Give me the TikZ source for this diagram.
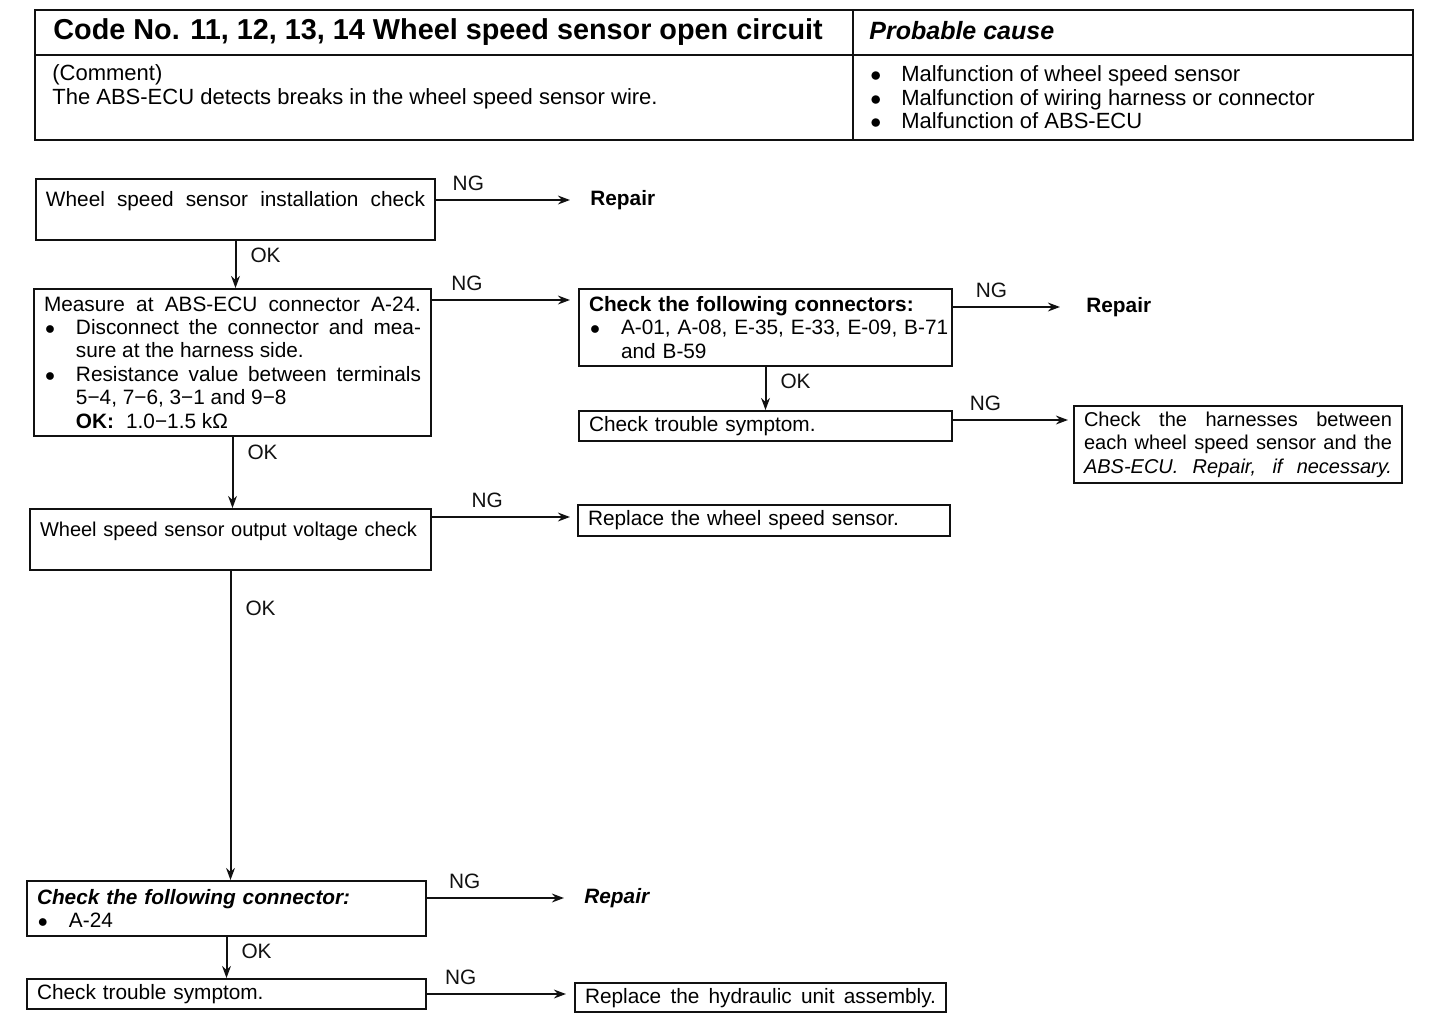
\documentclass[tikz,border=0pt]{standalone}
\usepackage{fontspec}
\setmainfont{Liberation Sans}
\usetikzlibrary{
  arrows.meta,
  positioning,
  calc
}
\definecolor{fcInk}{HTML}{111111}
\newcommand{\fcbullet}{\makebox[16pt][l]{\hspace{0.5pt}$\bullet$}}
\newcommand{\fcindent}{\hspace*{16pt}}
\tikzset{
  fcnode/.style={
    draw=fcInk, line width=1pt, inner xsep=5pt, inner ysep=2.5pt,
    anchor=north west, align=left, font=\fontsize{10.4}{11.7}\selectfont
  },
  fctall/.style={fcnode, text height=11pt, text depth=14.5pt},
  fcslim/.style={fcnode, minimum height=15pt},
  fcjust/.style={fcnode, align=justify},
  ngline/.style={-{Stealth[length=6pt, width=4.4pt]}, line width=1pt, fcInk},
  okline/.style={ngline},
  nglabel/.style={font=\fontsize{10.4}{11.7}\selectfont, above=3pt, inner sep=1pt},
  oklabel/.style={font=\fontsize{10.4}{11.7}\selectfont, right=6pt, inner sep=1pt},
  repair/.style={font=\fontsize{10.4}{11.7}\selectfont\bfseries, anchor=west, inner sep=0pt},
  tablerule/.style={line width=1.1pt, fcInk},
  tabhead/.style={font=\fontsize{14.4}{16}\selectfont\bfseries, anchor=west, inner sep=0pt},
  tabtext/.style={font=\fontsize{11}{11.7}\selectfont, anchor=north west, align=left, inner sep=0pt}
}
\begin{document}
\begin{tikzpicture}[x=0.5pt, y=-0.5pt]
  \useasboundingbox (0,0) rectangle (1440,1018);
  % header table
  \draw[tablerule] (35,10) rectangle (1413,140);
  \draw[tablerule] (35,55) -- (1413,55);
  \draw[tablerule] (853,10) -- (853,140);
  \node[tabhead] (code) at (53,32) {Code No. 11, 12, 13, 14 Wheel speed sensor open circuit};
  \node[tabhead, font=\fontsize{12.5}{14}\selectfont\bfseries\itshape] (cause) at (869,31) {Probable cause};
  \node[tabtext] (comment) at (52,64.5) {(Comment)\\The ABS-ECU detects breaks in the wheel speed sensor wire.};
  \node[tabtext] (causes) at (869,65.5) {\fcbullet Malfunction of wheel speed sensor\\
    \fcbullet Malfunction of wiring harness or connector\\
    \fcbullet Malfunction of ABS-ECU};

  % check boxes
  \node[fctall, align=justify, text width=189.5pt] (inst) at (35,178) {{\parfillskip=0pt
    Wheel speed sensor installation check\par}};
  \node[fcjust, text width=188.5pt, minimum height=73.5pt] (meas) at (33,288) {Measure at ABS-ECU connector A-24.\linebreak
    \fcbullet Disconnect the connector and mea-\linebreak
    \fcindent sure at the harness side.\\
    \fcbullet Resistance value between terminals\linebreak
    \fcindent 5−4, 7−6, 3−1 and 9−8\\
    \fcindent\textbf{OK:}\hspace{6pt}1.0−1.5 kΩ};
  \node[fcnode, text width=176.5pt, minimum height=38.5pt] (conn) at (578,288) {\textbf{Check the following connectors:}\\
    \fcbullet\mbox{A-01, A-08, E-35, E-33, E-09, B-71}\\
    \fcindent and B-59};
  \node[fcslim, text width=176.5pt] (symp) at (578,410) {Check trouble symptom.};
  \node[fcjust, font=\fontsize{10}{11.7}\selectfont, text width=154pt, minimum height=38.5pt] (harn) at (1073,405) {{\parfillskip=0pt
    Check the harnesses between\linebreak each wheel speed sensor and the\linebreak
    \textit{ABS-ECU. Repair, if necessary.}\par}};
  \node[fctall, font=\fontsize{10}{11.7}\selectfont, text width=190.5pt] (volt) at (29,508) {Wheel speed sensor output voltage check};
  \node[fcslim, text width=176pt, minimum height=15.5pt] (sens) at (577,504) {Replace the wheel speed sensor.};
  \node[fcnode, text width=189.5pt, minimum height=27.5pt] (conntwo) at (26,880) {\textbf{\textit{Check the following connector:}}\\
    \fcbullet A-24};
  \node[fcslim, text width=189.5pt] (symptwo) at (26,978) {Check trouble symptom.};
  \node[fcslim, align=justify, text width=175.5pt, minimum height=14pt] (hyd) at (574,982) {{\parfillskip=0pt
    Replace the hydraulic unit assembly.\par}};

  % repair targets
  \node[repair] (repone) at (590,200) {Repair};
  \node[repair] (reptwo) at (1086,307) {Repair};
  \node[repair, font=\fontsize{10.4}{11.7}\selectfont\bfseries\itshape] (repthree) at (584,898) {Repair};

  % NG branches
  \draw[ngline, shorten >=10pt] (inst.east |- repone.west) -- node[nglabel, pos=.21] (ngone) {NG} (repone.west);
  \draw[ngline, shorten >=4pt] ([yshift=-6pt]meas.north east) -- node[nglabel, pos=.24] (ngtwo) {NG} ([yshift=-6pt]conn.north west);
  \draw[ngline, shorten >=13pt] (conn.east |- reptwo.west) -- node[nglabel, pos=.29] (ngthree) {NG} (reptwo.west);
  \draw[ngline, shorten >=2.5pt] ([yshift=-5pt]symp.north east) -- node[nglabel, pos=.27] (ngfour) {NG} ([yshift=-5pt]symp.north east -| harn.west);
  \draw[ngline, shorten >=3.5pt] ([yshift=-4.5pt]volt.north east) -- node[nglabel, pos=.38] (ngfive) {NG} ([yshift=-4.5pt]volt.north east -| sens.west);
  \draw[ngline, shorten >=10pt] (conntwo.east |- repthree.west) -- node[nglabel, pos=.24] (ngsix) {NG} (repthree.west);
  \draw[ngline, shorten >=4pt] (symptwo.east) -- node[nglabel, pos=.23] (ngseven) {NG} (symptwo.east -| hyd.west);

  % OK branches
  \draw[okline] (inst.south) -- node[oklabel, pos=.31] (okone) {OK} (inst.south |- meas.north);
  \draw[okline] (meas.south) -- node[oklabel, pos=.22] (oktwo) {OK} (meas.south |- volt.north);
  \draw[okline] (conn.south) -- node[oklabel, pos=.33] (okthree) {OK} (conn.south |- symp.north);
  \draw[okline] (volt.south) -- node[oklabel, pos=.12] (okfour) {OK} (volt.south |- conntwo.north);
  \draw[okline] (conntwo.south) -- node[oklabel, pos=.35] (okfive) {OK} (conntwo.south |- symptwo.north);
\end{tikzpicture}
\end{document}
